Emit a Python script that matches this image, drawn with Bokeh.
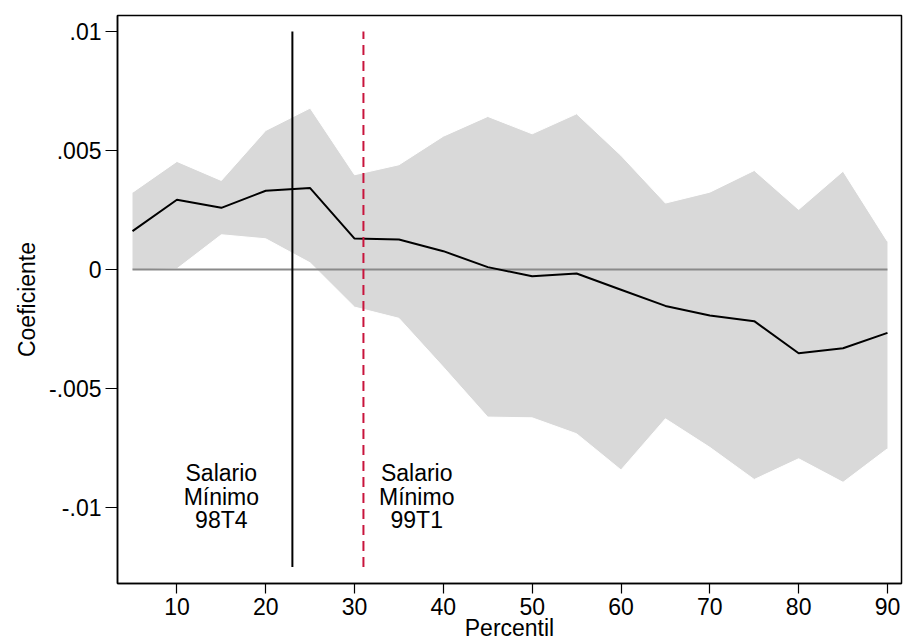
from bokeh.plotting import figure
from bokeh.models import FixedTicker, ColumnDataSource
from bokeh.core.properties import value
from bokeh.embed import file_html
from bokeh.resources import INLINE

# Data
percentil = [5, 10, 15, 20, 25, 30, 35, 40, 45, 50, 55, 60, 65, 70, 75, 80, 85, 90]
coef = [0.00161, 0.00293, 0.00259, 0.00331, 0.00342, 0.00130, 0.00126, 0.00077, 0.00010,
        -0.00028, -0.00017, -0.00085, -0.00153, -0.00193, -0.00217, -0.00352, -0.00331, -0.00266]
upper = [0.00324, 0.00454, 0.00374, 0.00584, 0.00678, 0.00398, 0.00440, 0.00560, 0.00643,
         0.00570, 0.00654, 0.00479, 0.00279, 0.00325, 0.00416, 0.00252, 0.00413, 0.00118]
lower = [-0.00002, 0.00003, 0.00146, 0.00129, 0.00028, -0.00158, -0.00205, -0.00410, -0.00620,
         -0.00623, -0.00690, -0.00842, -0.00627, -0.00747, -0.00882, -0.00795, -0.00894, -0.00753]

x_ticks = [10, 20, 30, 40, 50, 60, 70, 80, 90]
y_ticks = [-0.01, -0.005, 0, 0.005, 0.01]
y_tick_labels = ["-.01", "-.005", "0", ".005", ".01"]

vline_98T4 = 23
vline_99T1 = 31
vline_range = [-0.0125, 0.01]
label_x = [15, 37]
label_y = [-0.00954, -0.00954]
label_text = ["Salario\nMínimo\n98T4", "Salario\nMínimo\n99T1"]

FONT = "Liberation Sans"

p = figure(frame_width=784, frame_height=568,
           x_range=(3.31, 91.58), y_range=(-0.01319, 0.01067),
           output_backend="svg", toolbar_location=None,
           min_border_left=117, min_border_right=3, min_border_top=15, min_border_bottom=60,
           background_fill_color="white", border_fill_color="white")

p.grid.visible = False
p.outline_line_color = "black"
p.outline_line_width = 1.5

# Confidence band
p.varea(x=percentil, y1=lower, y2=upper, fill_color="#d9d9d9")
p.line(percentil, upper, line_color="white", line_width=1)
p.line(percentil, lower, line_color="white", line_width=1)

# zero line
p.line([percentil[0], percentil[-1]], [0, 0], line_color="#8a8a8a", line_width=2)

# coefficient line
p.line(percentil, coef, line_color="black", line_width=2)

# vertical lines
p.line([vline_98T4, vline_98T4], vline_range, line_color="black", line_width=2)
p.line([vline_99T1, vline_99T1], vline_range, line_color="#c8143c", line_width=2,
       line_dash="10 6")

# texts
src = ColumnDataSource(dict(x=label_x, y=label_y, t=label_text))
p.text(x="x", y="y", text="t", source=src, text_align="center", text_baseline="middle",
       text_font=value(FONT), text_font_size="23px", text_color="black",
       text_line_height=0.9)

# axes
p.xaxis.ticker = FixedTicker(ticks=x_ticks)
p.yaxis.ticker = FixedTicker(ticks=y_ticks)
p.yaxis.major_label_overrides = {t: l for t, l in zip(y_ticks, y_tick_labels)}
p.xaxis.axis_label = "Percentil"
p.yaxis.axis_label = "Coeficiente"
for ax in (p.xaxis, p.yaxis):
    ax.minor_tick_line_color = None
    ax.major_tick_in = 0
    ax.axis_line_color = "black"
    ax.axis_line_width = 1.5
    ax.major_tick_line_color = "black"
    ax.major_tick_line_width = 1.2
    ax.major_label_text_font = FONT
    ax.major_label_text_font_size = "23px"
    ax.major_label_text_color = "black"
    ax.axis_label_text_font = FONT
    ax.axis_label_text_font_size = "23px"
    ax.axis_label_text_font_style = "normal"
    ax.axis_label_text_color = "black"
p.xaxis.major_tick_out = 10
p.yaxis.major_tick_out = 12
p.xaxis.major_label_standoff = 4
p.xaxis.axis_label_standoff = -3
p.yaxis.major_label_standoff = 4
p.yaxis.axis_label_standoff = 6
p.yaxis.major_label_orientation = "horizontal"

open("out.html", "w").write(file_html(p, INLINE))
